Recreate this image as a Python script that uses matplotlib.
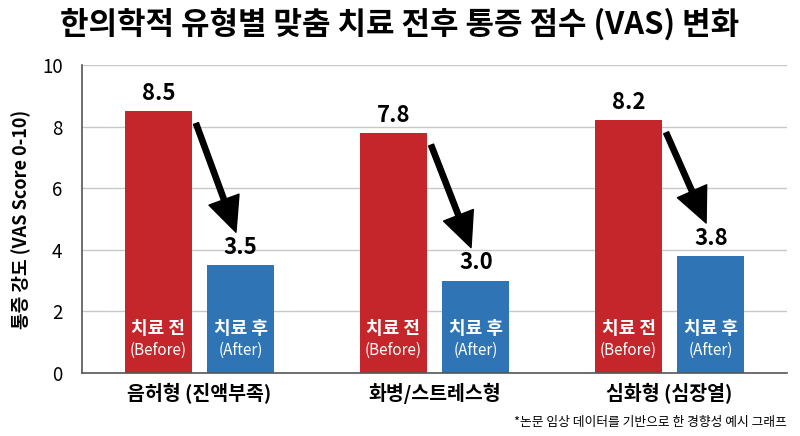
import matplotlib
matplotlib.use('Agg')
import matplotlib.pyplot as plt
import numpy as np

plt.rcParams['font.family'] = ['Noto Sans CJK KR', 'DejaVu Sans']

# 데이터
categories = ['음허형 (진액부족)', '화병/스트레스형', '심화형 (심장열)']
before = [8.5, 7.8, 8.2]
after = [3.5, 3.0, 3.8]

red = '#C4262B'
blue = '#2F75B5'

x = np.arange(len(categories))
w = 0.285
off = 0.175

fig = plt.figure(figsize=(8, 4.36), dpi=100)
ax = fig.add_axes([0.1025, 0.1445, 0.8815, 0.7065])

ax.bar(x - off, before, width=w, color=red, zorder=2)
ax.bar(x + off, after, width=w, color=blue, zorder=2)

ax.set_xlim(-0.5, 2.5)
ax.set_ylim(0, 10)
ax.set_yticks([0, 2, 4, 6, 8, 10])
ax.yaxis.grid(True, color='#C8C8C8', linewidth=1, zorder=0)
ax.tick_params(axis='y', length=0, labelsize=13.5, pad=14)
ax.tick_params(axis='x', length=0, pad=7)
ax.set_xticks(x)
ax.set_xticklabels(categories, fontsize=14, fontweight='bold')
for s in ['top', 'right']:
    ax.spines[s].set_visible(False)
for s in ['left', 'bottom']:
    ax.spines[s].set_color('#555555')
    ax.spines[s].set_linewidth(1.2)

ax.set_ylabel('통증 강도 (VAS Score 0-10)', fontsize=13, fontweight='bold', labelpad=8)

# 값 라벨, 막대 내부 라벨
for i in range(len(categories)):
    ax.text(x[i] - off, before[i] + 0.2, f'{before[i]:.1f}', ha='center', va='bottom',
            fontsize=16, fontweight='bold')
    ax.text(x[i] + off, after[i] + 0.2, f'{after[i]:.1f}', ha='center', va='bottom',
            fontsize=16, fontweight='bold')
    ax.text(x[i] - off, 1.45, '치료 전', ha='center', va='center', color='white',
            fontsize=13, fontweight='bold')
    ax.text(x[i] - off, 0.72, '(Before)', ha='center', va='center', color='white', fontsize=11)
    ax.text(x[i] + off, 1.45, '치료 후', ha='center', va='center', color='white',
            fontsize=13, fontweight='bold')
    ax.text(x[i] + off, 0.72, '(After)', ha='center', va='center', color='white', fontsize=11)
    # 화살표
    ax.annotate('', xy=(x[i] + 0.155, after[i] + 1.07), xytext=(x[i] - 0.015, before[i] - 0.4),
                arrowprops=dict(arrowstyle='simple,tail_width=0.38,head_width=2.3,head_length=2.5',
                                color='black', shrinkA=0, shrinkB=0), zorder=3)

fig.text(0.5, 0.945, '한의학적 유형별 맞춤 치료 전후 통증 점수 (VAS) 변화', ha='center', va='center',
         fontsize=22.3, fontweight='bold')
fig.text(0.984, 0.032, '*논문 임상 데이터를 기반으로 한 경향성 예시 그래프', ha='right', va='center',
         fontsize=9.2)

fig.savefig('out.png', dpi=100)
